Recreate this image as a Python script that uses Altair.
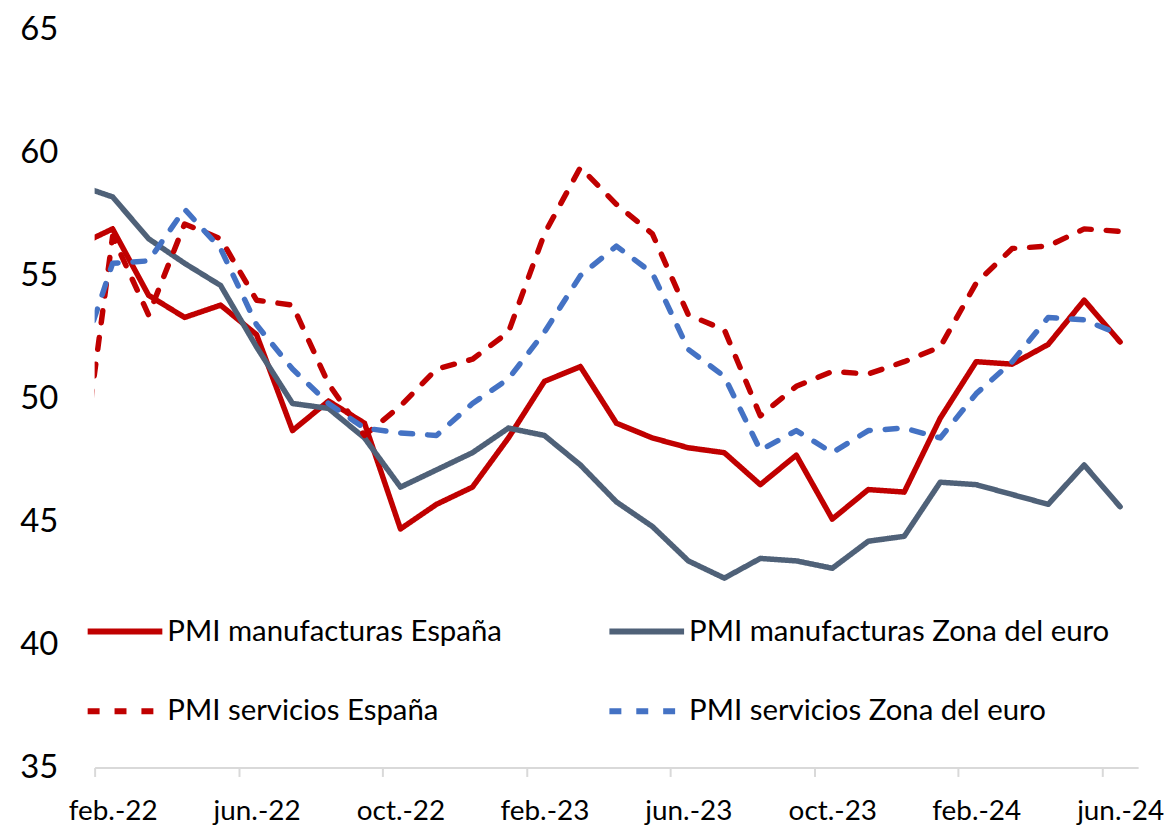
import altair as alt
import pandas as pd

# Monthly PMI readings, jan.-22 .. jun.-24 (jan.-22 lies just left of the visible axis)
months = pd.date_range("2022-01-01", "2024-06-01", freq="MS").strftime("%Y-%m").tolist()

pmi_manuf_es = [56.2, 56.9, 54.2, 53.3, 53.8, 52.6, 48.7, 49.9, 49.0, 44.7, 45.7, 46.4,
                48.4, 50.7, 51.3, 49.0, 48.4, 48.0, 47.8, 46.5, 47.7, 45.1, 46.3, 46.2,
                49.2, 51.5, 51.4, 52.2, 54.0, 52.3]
pmi_manuf_ez = [58.7, 58.2, 56.5, 55.5, 54.6, 52.1, 49.8, 49.6, 48.4, 46.4, 47.1, 47.8,
                48.8, 48.5, 47.3, 45.8, 44.8, 43.4, 42.7, 43.5, 43.4, 43.1, 44.2, 44.4,
                46.6, 46.5, 46.1, 45.7, 47.3, 45.6]
pmi_serv_es = [45.5, 56.6, 53.4, 57.1, 56.5, 54.0, 53.8, 50.6, 48.5, 49.7, 51.2, 51.6,
               52.7, 56.7, 59.4, 57.9, 56.7, 53.4, 52.8, 49.3, 50.5, 51.1, 51.0, 51.5,
               52.1, 54.7, 56.1, 56.2, 56.9, 56.8]
pmi_serv_ez = [51.1, 55.5, 55.6, 57.7, 56.1, 53.0, 51.2, 49.8, 48.8, 48.6, 48.5, 49.8,
               50.8, 52.7, 55.0, 56.2, 55.1, 52.0, 50.9, 47.9, 48.7, 47.8, 48.7, 48.8,
               48.4, 50.2, 51.5, 53.3, 53.2, 52.6]

series_names = ["PMI manufacturas España", "PMI manufacturas Zona del euro",
                "PMI servicios España", "PMI servicios Zona del euro"]
series_colors = ["#C00000", "#4F6178", "#C00000", "#4472C4"]
series_dashes = [[1, 0], [1, 0], [12, 15], [12, 15]]
# legend is filled column by column: list entries so rows read as in the reference
legend_order = [0, 2, 1, 3]

tick_labels = ["feb.-22", "jun.-22", "oct.-22", "feb.-23", "jun.-23", "oct.-23", "feb.-24", "jun.-24"]

rows = []
for name, vals in zip(series_names, [pmi_manuf_es, pmi_manuf_ez, pmi_serv_es, pmi_serv_ez]):
    for i, (m, v) in enumerate(zip(months, vals)):
        rows.append({"serie": name, "mes": m, "idx": i, "valor": v})
df = pd.DataFrame(rows)

dom = [series_names[k] for k in legend_order]
col_range = [series_colors[k] for k in legend_order]
dash_range = [series_dashes[k] for k in legend_order]

FONT = "Lato"
tick_vals = [0.5 + 4 * k for k in range(len(tick_labels))]
label_expr = "[" + ",".join("'%s'" % t for t in tick_labels) + "][round((datum.value - 0.5) / 4)]"

W = 1048
H = 741
px_per_month = W / 29.0

chart = alt.Chart(df).mark_line(
    strokeWidth=5.5, strokeCap="round", strokeJoin="round", clip=True
).encode(
    x=alt.X("idx:Q",
            scale=alt.Scale(domain=[0.5, 29.5], nice=False, zero=False),
            axis=alt.Axis(values=tick_vals, labelExpr=label_expr, title=None, grid=False,
                          domainColor="#D9D9D9", domainWidth=2, tickColor="#D9D9D9",
                          tickWidth=2, tickSize=9, labelFont=FONT, labelFontSize=28,
                          labelColor="#000000", labelAlign="center", labelBaseline="alphabetic",
                          labelOffset=px_per_month / 2, labelPadding=43, labelFlush=False,
                          labelOverlap=False)),
    y=alt.Y("valor:Q",
            scale=alt.Scale(domain=[35, 65], nice=False, zero=False),
            axis=alt.Axis(values=[35, 40, 45, 50, 55, 60, 65], title=None, grid=False,
                          domain=False, ticks=False, tickSize=0, labelFont=FONT,
                          labelFontSize=33, labelColor="#000000", labelPadding=37)),
    color=alt.Color("serie:N",
                    scale=alt.Scale(domain=dom, range=col_range),
                    sort=dom,
                    legend=alt.Legend(title=None, orient="none", legendX=-10, legendY=564,
                                      columns=2, columnPadding=95, rowPadding=25,
                                      symbolType="stroke", symbolSize=5625,
                                      symbolStrokeWidth=6, labelFont=FONT, labelFontSize=29.5,
                                      labelColor="#000000", labelOffset=2,
                                      labelLimit=600)),
    strokeDash=alt.StrokeDash("serie:N",
                              scale=alt.Scale(domain=dom, range=dash_range),
                              sort=dom, legend=alt.Legend(title=None)),
    detail="serie:N",
    order="idx:Q",
).properties(
    width=W, height=H,
    padding={"left": 11, "top": 4, "right": 4, "bottom": 0},
).configure(background="white").configure_view(strokeWidth=0, stroke="transparent")

chart.save("out.html", embed_options={"renderer": "svg", "actions": False})
